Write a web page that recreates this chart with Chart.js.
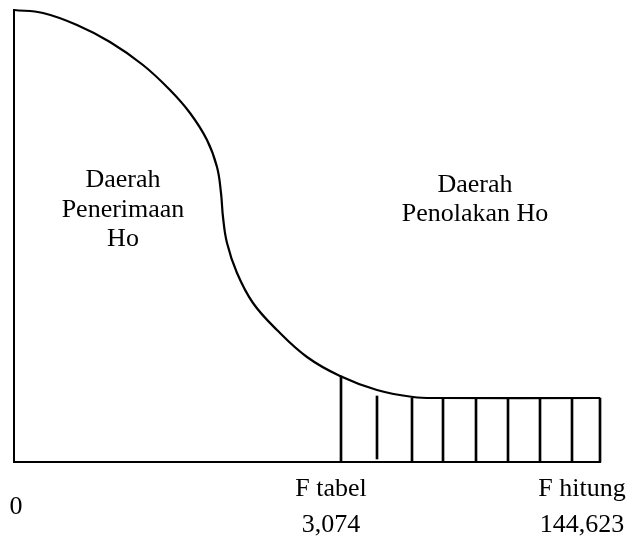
<!DOCTYPE html>
<html>
<head>
<meta charset="utf-8">
<script src="https://cdn.jsdelivr.net/npm/chart.js@4"></script>
<style>
  html, body { margin: 0; padding: 0; background: #fff; }
  #wrap { width: 628px; height: 544px; }
</style>
</head>
<body>
<div id="wrap"><canvas id="chart-ftest"></canvas></div>
<script>
// F distribution sketch: acceptance / rejection regions
const curveX = [0, 29, 63, 96, 129, 156, 176, 193, 203, 207, 209, 213, 223, 239, 263, 293, 326, 363, 399, 426, 586];
const curveY = [452, 449, 437, 420, 397, 372, 349, 322, 295, 269, 245, 219, 189, 159, 132, 105, 86, 72, 65, 64, 64];

const hatchX = [327, 363, 398, 429, 462, 494, 526, 558, 586];
const hatchLow = [0, 3, 0, 0, 0, 0, 0, 0, 0];
const hatchHigh = [86, 66, 64, 64, 64, 64, 64, 64, 64];

const tickValues = [2, 317, 568];
const tickLabels = [['0'], ['F tabel', '3,074'], ['F hitung', '144,623']];

const regionLabels = [
    { x: 109, y: [282, 252, 223], lines: ['Daerah', 'Penerimaan', 'Ho'] },
    { x: 461, y: [277, 248], lines: ['Daerah', 'Penolakan Ho'] },
];

const FONT = '"Liberation Serif", "Times New Roman", serif';

const regionText = {
    id: 'regionText',
    afterDatasetsDraw(chart) {
        const { ctx, scales: { x, y } } = chart;
        ctx.save();
        ctx.fillStyle = '#000';
        ctx.font = `26px ${FONT}`;
        ctx.textAlign = 'center';
        ctx.textBaseline = 'middle';
        regionLabels.forEach(r => {
            r.lines.forEach((t, i) => ctx.fillText(t, x.getPixelForValue(r.x), y.getPixelForValue(r.y[i])));
        });
        ctx.restore();
    },
};

const ctx = document.getElementById('chart-ftest').getContext('2d');
new Chart(ctx, {
    type: 'bar',
    data: {
        datasets: [
            {
                type: 'line',
                data: curveX.map((v, i) => ({ x: v, y: curveY[i] })),
                borderColor: '#000',
                borderWidth: 2.2,
                pointRadius: 0,
                fill: false,
                tension: 0.4,
                clip: false,
            },
            {
                type: 'bar',
                data: hatchX.map((v, i) => ({ x: v, y: [hatchLow[i], hatchHigh[i]] })),
                backgroundColor: '#000',
                borderWidth: 0,
                barThickness: 2,
                clip: false,
            },
        ],
    },
    options: {
        responsive: true,
        maintainAspectRatio: false,
        animation: false,
        layout: { padding: { left: 14, top: 10, right: 28, bottom: 0 } },
        plugins: { legend: { display: false }, tooltip: { enabled: false } },
        scales: {
            x: {
                type: 'linear',
                min: 0,
                max: 586,
                offset: false,
                grid: { display: false, drawTicks: false },
                border: { display: true, color: '#000', width: 2 },
                afterBuildTicks: s => { s.ticks = tickValues.map(v => ({ value: v })); },
                afterFit: s => {
                    s.height = 82;
                    s.paddingLeft = 0;
                    s.paddingRight = 0;
                },
                ticks: {
                    autoSkip: false,
                    maxRotation: 0,
                    padding: 27,
                    crossAlign: 'center',
                    color: '#000',
                    font: { family: FONT, size: 26, lineHeight: 1.38 },
                    callback: (v, i) => tickLabels[i],
                },
            },
            y: {
                min: 0,
                max: 452,
                grid: { display: false, drawTicks: false },
                border: { display: true, color: '#000', width: 2 },
                ticks: { display: false },
            },
        },
    },
    plugins: [regionText],
});
</script>
</body>
</html>
